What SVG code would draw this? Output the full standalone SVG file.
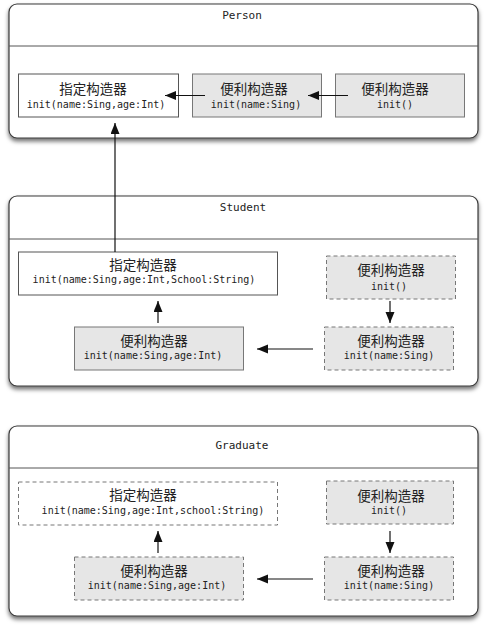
<svg xmlns="http://www.w3.org/2000/svg" width="487" height="630" viewBox="0 0 487 630">
<style>
.cont{fill:#fff;stroke:#3a3a3a;stroke-width:1.2}
.div{stroke:#555;stroke-width:1}
.title{font-family:"DejaVu Sans Mono","Liberation Mono",monospace;font-size:11px;fill:#222;text-anchor:middle}
.box{fill:#fff;stroke:#555;stroke-width:1}
.gray{fill:#e6e6e6;stroke:#777;stroke-width:1}
.dash{stroke-dasharray:4 3;stroke:#777}
.cjk{font-family:"Noto Sans CJK SC","Noto Sans CJK JP",sans-serif;font-size:13.5px;fill:#222;text-anchor:middle}
.code{font-family:"DejaVu Sans Mono","Liberation Mono",monospace;font-size:10px;fill:#222;text-anchor:middle}
.conn{stroke:#111;stroke-width:1.2;fill:none;marker-end:url(#ah)}
</style>
<defs>
<filter id="sh" x="-5%" y="-10%" width="110%" height="125%">
<feDropShadow dx="0" dy="3" stdDeviation="2" flood-color="#000" flood-opacity="0.55"/>
</filter>
<marker id="ah" markerUnits="userSpaceOnUse" markerWidth="12" markerHeight="10" refX="11" refY="4.5" orient="auto">
<path d="M0,0 L11,4.5 L0,9 Z" fill="#111"/>
</marker>
</defs>

<g id="person">
<rect class="cont" x="9" y="4" width="469" height="134" rx="8" filter="url(#sh)"/>
<line class="div" x1="9" y1="46" x2="478" y2="46"/>
<text class="title" x="242" y="19">Person</text>
</g>
<g id="person-designated">
<rect class="box" x="18.5" y="74" width="160" height="43"/>
<text class="cjk" x="93" y="94">指定构造器</text>
<text class="code" x="96" y="108">init(name:Sing,age:Int)</text>
</g>
<g id="person-conv1">
<rect class="gray" x="192.5" y="74" width="129" height="43"/>
<text class="cjk" x="254" y="94">便利构造器</text>
<text class="code" x="256" y="108">init(name:Sing)</text>
</g>
<g id="person-conv2">
<rect class="gray" x="335.5" y="74" width="129" height="43"/>
<text class="cjk" x="395" y="94">便利构造器</text>
<text class="code" x="395" y="108">init()</text>
</g>

<g id="student">
<rect class="cont" x="9" y="196" width="469" height="190" rx="8" filter="url(#sh)"/>
<line class="div" x1="9" y1="239" x2="478" y2="239"/>
<text class="title" x="243" y="211">Student</text>
</g>
<g id="student-designated">
<rect class="box" x="18.5" y="252" width="259" height="43"/>
<text class="cjk" x="143" y="270">指定构造器</text>
<text class="code" x="144" y="283">init(name:Sing,age:Int,School:String)</text>
</g>
<g id="student-conv0">
<rect class="gray dash" x="326.5" y="256" width="129" height="43"/>
<text class="cjk" x="391" y="275">便利构造器</text>
<text class="code" x="389" y="290">init()</text>
</g>
<g id="student-conv1">
<rect class="gray dash" x="324.5" y="327" width="129" height="43"/>
<text class="cjk" x="391" y="346">便利构造器</text>
<text class="code" x="389" y="359">init(name:Sing)</text>
</g>
<g id="student-conv2">
<rect class="gray" x="74.5" y="327" width="169" height="43"/>
<text class="cjk" x="154" y="346">便利构造器</text>
<text class="code" x="153" y="359">init(name:Sing,age:Int)</text>
</g>

<g id="graduate">
<rect class="cont" x="9" y="426" width="469" height="190" rx="8" filter="url(#sh)"/>
<line class="div" x1="9" y1="468" x2="478" y2="468"/>
<text class="title" x="242" y="449">Graduate</text>
</g>
<g id="graduate-designated">
<rect class="box dash" x="18.5" y="482" width="259" height="43"/>
<text class="cjk" x="143" y="500">指定构造器</text>
<text class="code" x="153" y="514">init(name:Sing,age:Int,school:String)</text>
</g>
<g id="graduate-conv0">
<rect class="gray dash" x="326.5" y="481" width="127" height="43"/>
<text class="cjk" x="391" y="501">便利构造器</text>
<text class="code" x="389" y="514">init()</text>
</g>
<g id="graduate-conv1">
<rect class="gray dash" x="324.5" y="557" width="129" height="43"/>
<text class="cjk" x="391" y="576">便利构造器</text>
<text class="code" x="389" y="589">init(name:Sing)</text>
</g>
<g id="graduate-conv2">
<rect class="gray dash" x="74.5" y="557" width="169" height="43"/>
<text class="cjk" x="154" y="576">便利构造器</text>
<text class="code" x="157" y="589">init(name:Sing,age:Int)</text>
</g>

<g id="connectors">
<line class="conn" x1="205" y1="95.5" x2="165" y2="95.5"/>
<line class="conn" x1="348" y1="95.5" x2="308" y2="95.5"/>
<line class="conn" x1="115" y1="252" x2="115" y2="123"/>
<line class="conn" x1="158" y1="323" x2="158" y2="301"/>
<line class="conn" x1="390" y1="301" x2="390" y2="323"/>
<line class="conn" x1="313" y1="349" x2="257" y2="349"/>
<line class="conn" x1="158" y1="553" x2="158" y2="531"/>
<line class="conn" x1="390" y1="531" x2="390" y2="553"/>
<line class="conn" x1="313" y1="579" x2="257" y2="579"/>
</g>
</svg>
